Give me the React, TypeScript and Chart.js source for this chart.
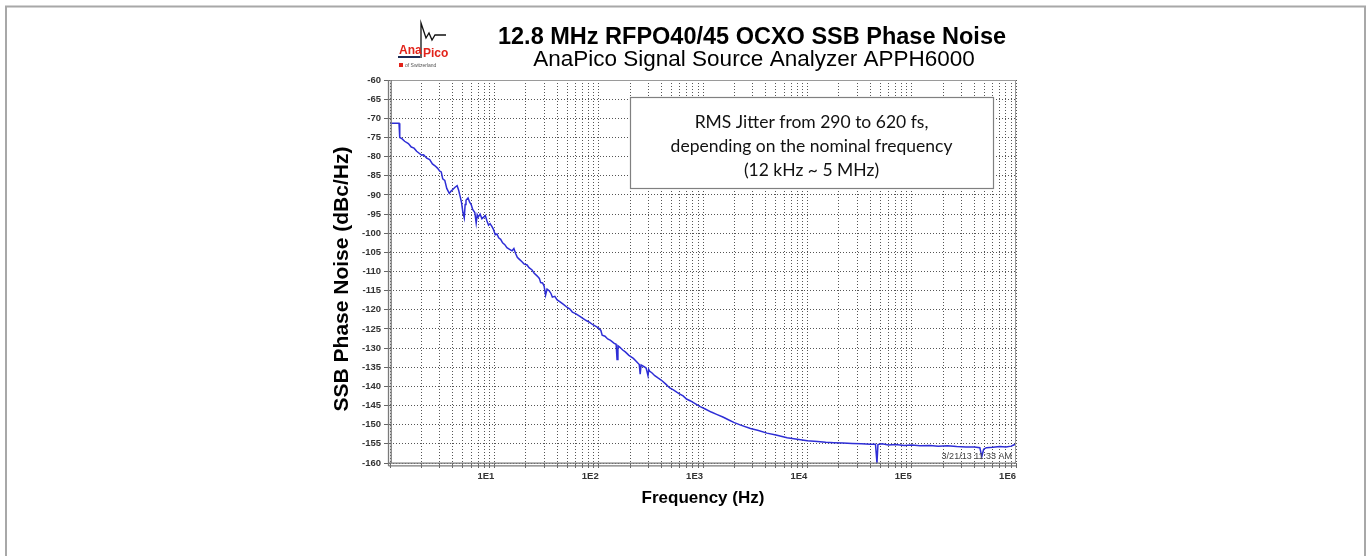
import React, { useEffect, useRef } from "react";
import { Chart, registerables } from "chart.js";

Chart.register(...registerables);

// ---- data ----
const freqHz = [
  1, 1.22, 1.24, 1.3, 1.38, 1.5, 1.6, 1.7, 1.8, 2.0, 2.1, 2.25, 2.4, 2.55, 2.7, 2.85,
  3.0, 3.1, 3.2, 3.35, 3.5, 3.7, 3.85, 4.0, 4.2, 4.4, 4.55, 4.7, 4.85, 5.0, 5.15, 5.25,
  5.35, 5.6, 5.8, 6.0, 6.2, 6.5, 6.7, 6.85, 7.0, 7.3, 7.6, 7.9, 8.2, 8.5, 8.8, 9.1,
  9.5, 9.8, 10.2, 10.6, 11.0, 11.5, 12, 12.6, 13.2, 14.0, 14.8, 15.4, 16, 16.6, 17.5,
  18.3, 19.2, 20.6, 21.5, 23, 24, 25.8, 27, 27.8, 29, 30, 31, 32, 33.5, 35, 36, 38,
  40, 43, 46, 50, 53, 56, 60, 65, 70, 76, 82, 88, 95, 100, 105, 108, 115, 122, 130,
  140, 147, 150, 153, 160, 170, 180, 195, 215, 230, 245, 250, 255, 270, 285, 297, 302,
  307, 325, 345, 370, 400, 440, 480, 520, 560, 600, 645, 695, 760, 840, 940, 1050,
  1200, 1350, 1550, 1750, 1970, 2300, 2850, 3400, 4100, 5000, 6400, 8000, 10000,
  12500, 15000, 18000, 22000, 27000, 33000, 40000, 45000, 46500, 47500, 52000, 60000,
  70000, 85000, 100000, 120000, 150000, 180000, 220000, 270000, 330000, 400000,
  450000, 470000, 490000, 520000, 600000, 700000, 800000, 900000, 950000, 1000000,
];

const phaseNoise = [
  -71.3, -71.3, -75.0, -75.3, -76.0, -76.6, -77.5, -77.8, -78.6, -79.6, -79.5, -80.4,
  -80.8, -81.9, -82.4, -83.0, -83.8, -84.0, -85.8, -86.2, -88.3, -89.6, -89.0, -88.6,
  -88.0, -87.6, -88.8, -90.4, -92.0, -94.6, -96.0, -92.5, -91.4, -90.8, -91.9, -92.5,
  -93.8, -94.6, -97.4, -95.2, -95.8, -95.0, -96.2, -95.8, -95.4, -96.8, -97.9, -97.5,
  -98.3, -99.0, -100.4, -100.2, -101.2, -101.6, -102.5, -103.0, -103.8, -104.2,
  -104.6, -104.0, -105.3, -106.3, -106.9, -107.4, -108.0, -108.3, -109.0, -109.6,
  -110.4, -111.2, -111.8, -112.9, -113.0, -113.8, -116.2, -114.6, -115.0, -115.8,
  -116.7, -116.5, -117.4, -118.0, -118.6, -119.4, -119.8, -120.6, -121.0, -121.6,
  -122.2, -122.8, -123.3, -123.9, -124.4, -124.8, -125.4, -126.6, -126.9, -127.6,
  -128.0, -128.7, -129.0, -133.0, -129.4, -129.8, -130.5, -131.0, -131.9, -132.7,
  -133.5, -134.3, -136.8, -134.4, -134.8, -135.2, -137.2, -135.6, -136.0, -136.5,
  -137.2, -137.8, -138.4, -139.4, -140.4, -140.9, -141.5, -142.0, -142.5, -143.3,
  -143.8, -144.5, -145.3, -145.9, -146.7, -147.3, -148.0, -148.7, -149.4, -150.1,
  -151.0, -151.5, -152.2, -152.7, -153.4, -153.8, -154.2, -154.4, -154.6, -154.7,
  -154.8, -154.9, -155.0, -155.1, -155.1, -160.0, -155.2, -155.0, -155.3, -155.2,
  -155.4, -155.3, -155.5, -155.4, -155.6, -155.5, -155.7, -155.8, -155.8, -156.0,
  -158.3, -156.4, -156.0, -155.9, -155.7, -155.8, -155.6, -155.3, -155.0,
];

const yTickValues = [
  -60, -65, -70, -75, -80, -85, -90, -95, -100, -105, -110, -115, -120, -125, -130,
  -135, -140, -145, -150, -155, -160,
];
const xDecades = [1, 10, 100, 1000, 10000, 100000, 1000000];
const xDecadeLabels = ["", "1E1", "1E2", "1E3", "1E4", "1E5", "1E6"];
const xMinorSteps = [2, 3, 4, 5, 6, 7, 8, 9];

const titleText = "12.8 MHz RFPO40/45 OCXO SSB Phase Noise";
const subtitleText = "AnaPico Signal Source Analyzer APPH6000";
const yAxisTitle = "SSB Phase Noise (dBc/Hz)";
const xAxisTitle = "Frequency (Hz)";
const noteLines = [
  "RMS Jitter from 290 to 620 fs,",
  "depending on the nominal frequency",
  "(12 kHz ~ 5 MHz)",
];
const timestampText = "3/21/13 11:33 AM";

const xTickValues: number[] = [];
xDecades.forEach((d, i) => {
  xTickValues.push(d);
  if (i < xDecades.length - 1) xMinorSteps.forEach((m) => xTickValues.push(d * m));
});

const AXIS_FONT = "'Liberation Sans', Arial, sans-serif";

const decorPlugin = {
  id: "decor",
  beforeDraw(chart: any) {
    const ctx = chart.ctx;
    ctx.save();
    ctx.fillStyle = "#ffffff";
    ctx.fillRect(0, 0, chart.width, chart.height);
    ctx.restore();
  },
  afterDraw(chart: any) {
    const ctx = chart.ctx;
    const a = chart.chartArea;
    ctx.save();

    // outer page frame
    ctx.strokeStyle = "#a8a8a8";
    ctx.lineWidth = 2;
    ctx.beginPath();
    ctx.moveTo(6, 620);
    ctx.lineTo(6, 6.5);
    ctx.lineTo(1365, 6.5);
    ctx.lineTo(1365, 620);
    ctx.stroke();

    // plot frame
    ctx.strokeStyle = "#9a9a9a";
    ctx.lineWidth = 1;
    ctx.beginPath();
    ctx.moveTo(a.left, a.top + 0.5);
    ctx.lineTo(a.right, a.top + 0.5);
    ctx.moveTo(a.right - 0.5, a.top);
    ctx.lineTo(a.right - 0.5, a.bottom);
    ctx.stroke();
    ctx.strokeStyle = "#7a7a7a";
    ctx.lineWidth = 1.3;
    ctx.beginPath();
    ctx.moveTo(a.left - 1.5, a.top);
    ctx.lineTo(a.left - 1.5, a.bottom + 3);
    ctx.moveTo(a.left + 1.2, a.top);
    ctx.lineTo(a.left + 1.2, a.bottom);
    ctx.moveTo(a.left - 1.5, a.bottom + 0.2);
    ctx.lineTo(a.right, a.bottom + 0.2);
    ctx.moveTo(a.left - 1.5, a.bottom + 2.8);
    ctx.lineTo(a.right, a.bottom + 2.8);
    ctx.stroke();

    // timestamp
    ctx.fillStyle = "#444";
    ctx.font = `9px ${AXIS_FONT}`;
    ctx.textAlign = "right";
    ctx.textBaseline = "middle";
    ctx.fillText(timestampText, a.right - 4, a.bottom - 6);

    // annotation box
    const bx = 630, by = 97, bw = 363, bh = 91;
    ctx.fillStyle = "#ffffff";
    ctx.fillRect(bx, by, bw, bh);
    ctx.strokeStyle = "#808080";
    ctx.lineWidth = 1.2;
    ctx.strokeRect(bx + 0.5, by + 0.5, bw, bh);
    ctx.fillStyle = "#111";
    ctx.font = "17.5px Lato, 'Open Sans', sans-serif";
    ctx.textAlign = "center";
    ctx.textBaseline = "middle";
    const lineYs = [122, 146, 170];
    noteLines.forEach((t, i) => ctx.fillText(t, bx + bw / 2, lineYs[i]));

    // titles
    ctx.fillStyle = "#000";
    ctx.font = `bold 23.5px ${AXIS_FONT}`;
    ctx.textAlign = "center";
    ctx.textBaseline = "middle";
    ctx.fillText(titleText, 752, 38);
    ctx.font = `22.5px ${AXIS_FONT}`;
    ctx.fillText(subtitleText, 754, 60);

    // axis titles
    ctx.font = `bold 17px ${AXIS_FONT}`;
    ctx.fillText(xAxisTitle, (a.left + a.right) / 2, 498);
    ctx.save();
    ctx.translate(342, 279);
    ctx.rotate(-Math.PI / 2);
    ctx.font = `bold 21px ${AXIS_FONT}`;
    ctx.fillText(yAxisTitle, 0, 0);
    ctx.restore();

    // logo
    ctx.strokeStyle = "#111";
    ctx.lineWidth = 1.3;
    ctx.beginPath();
    ctx.moveTo(421, 58);
    ctx.lineTo(421, 23);
    ctx.lineTo(426, 38);
    ctx.lineTo(429, 33);
    ctx.lineTo(432, 40);
    ctx.lineTo(435, 35);
    ctx.lineTo(446, 35);
    ctx.stroke();
    ctx.fillStyle = "#1b2a55";
    ctx.fillRect(398, 56, 22, 2);
    ctx.fillStyle = "#e2231a";
    ctx.font = `bold 12px ${AXIS_FONT}`;
    ctx.textAlign = "left";
    ctx.textBaseline = "alphabetic";
    ctx.fillText("Ana", 399, 54);
    ctx.fillText("Pico", 423, 57);
    ctx.fillRect(399, 63, 4, 4);
    ctx.fillStyle = "#555";
    ctx.font = `5px ${AXIS_FONT}`;
    ctx.fillText("of Switzerland", 405, 67);

    ctx.restore();
  },
};

export default function App() {
  const canvasRef = useRef<HTMLCanvasElement | null>(null);

  useEffect(() => {
    const canvas = canvasRef.current;
    if (!canvas) return;
    const points = freqHz.map((f, i) => ({ x: f, y: phaseNoise[i] }));
    const gridColor = "rgba(55,55,55,0.85)";
    const chart = new Chart(canvas, {
      type: "line",
      data: {
        datasets: [
          {
            data: points,
            borderColor: "#2e2ed6",
            borderWidth: 1.5,
            pointRadius: 0,
            tension: 0,
            fill: false,
          },
        ],
      },
      options: {
        animation: false,
        responsive: false,
        devicePixelRatio: 1,
        layout: { padding: { left: 330, right: 355, top: 80, bottom: 58 } },
        plugins: {
          legend: { display: false },
          tooltip: { enabled: false },
          title: { display: false },
        },
        scales: {
          x: {
            type: "logarithmic",
            min: 1,
            max: 1000000,
            afterBuildTicks: (s: any) => {
              s.ticks = xTickValues.map((v) => ({ value: v }));
            },
            afterFit: (s: any) => {
              s.height = 35;
            },
            ticks: {
              autoSkip: false,
              maxRotation: 0,
              minRotation: 0,
              padding: 3,
              align: "end",
              color: "#333",
              font: { family: AXIS_FONT, size: 9.5, weight: "bold" },
              callback: (v: any) => {
                const i = xDecades.indexOf(Number(v));
                return i >= 0 ? xDecadeLabels[i] : "";
              },
            },
            grid: {
              color: gridColor,
              lineWidth: 1,
              drawTicks: true,
              tickLength: 5,
              tickColor: "#666",
              tickWidth: 1,
              tickBorderDash: [],
            },
            border: { display: false, dash: [1, 2] },
          },
          y: {
            type: "linear",
            min: -160,
            max: -60,
            afterBuildTicks: (s: any) => {
              s.ticks = yTickValues.map((v) => ({ value: v }));
            },
            afterFit: (s: any) => {
              s.width = 60;
            },
            ticks: {
              autoSkip: false,
              padding: 3,
              color: "#333",
              font: { family: AXIS_FONT, size: 9.5, weight: "bold" },
              callback: (v: any) => String(v),
            },
            grid: {
              color: gridColor,
              lineWidth: 1,
              drawTicks: true,
              tickLength: 6,
              tickColor: "#666",
              tickWidth: 1,
              tickBorderDash: [],
            },
            border: { display: false, dash: [1, 2] },
          },
        },
      } as any,
      plugins: [decorPlugin],
    });
    return () => chart.destroy();
  }, []);

  return (
    <div
      style={{
        position: "absolute",
        left: 0,
        top: 0,
        width: 1371,
        height: 556,
        background: "#ffffff",
      }}
    >
      <canvas
        ref={canvasRef}
        width={1371}
        height={556}
        style={{ width: 1371, height: 556, display: "block" }}
      />
    </div>
  );
}
